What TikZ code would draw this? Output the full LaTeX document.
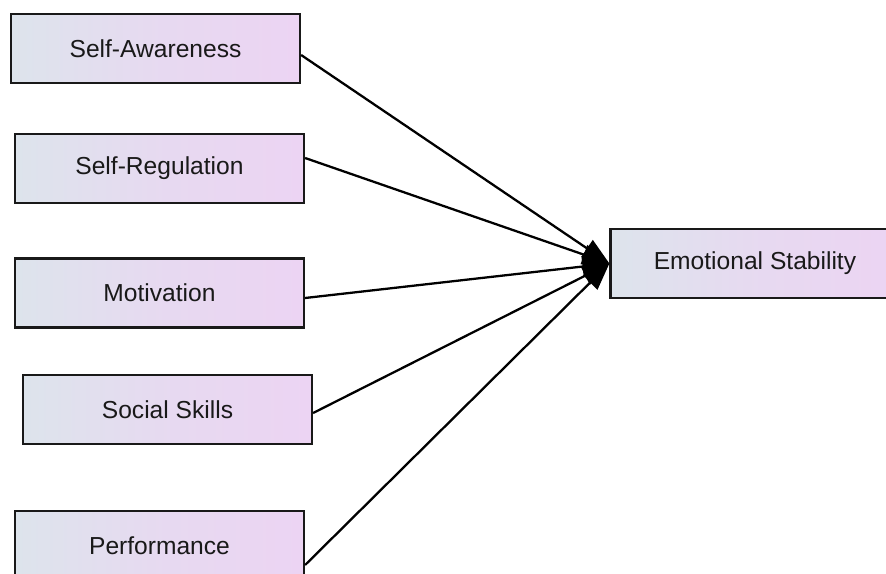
\documentclass[tikz,border=0pt]{standalone}
\usepackage{fontspec}
\setmainfont{Liberation Sans}
\usetikzlibrary{arrows.meta}
\definecolor{boxleft}{RGB}{221,228,236}
\definecolor{boxright}{RGB}{236,212,243}

\begin{document}
\begin{tikzpicture}[x=0.02cm,y=-0.02cm,
  box/.style={draw=black!90, line width=1.3pt, left color=boxleft, right color=boxright,
    middle color=boxright!65!boxleft,
    minimum width=5.78cm, minimum height=1.38cm, inner sep=0pt,
    font=\fontsize{14}{17}\selectfont, text=black!90},
  link/.style={line width=1.3pt, -{Triangle[length=0.54cm,width=0.4cm]}}]
\useasboundingbox (0,0) rectangle (886,574);

\node[box] (sa) at (155.5,48.5) {Self-Awareness};
\node[box] (sr) at (159.5,168.5) {Self-Regulation};
\node[box] (mo) at (159.5,293) {Motivation};
\node[box] (ss) at (167.5,409.5) {Social Skills};
\node[box] (pe) at (159.5,545.5) {Performance};

\node[box] (es) at (755,263.5) {Emotional Stability};

\draw[link] ([yshift=-0.13cm]sa.east) -- (es.west);
\draw[link] ([yshift=0.21cm]sr.east) -- (es.west);
\draw[link] ([yshift=-0.1cm]mo.east) -- (es.west);
\draw[link] ([yshift=-0.07cm]ss.east) -- (es.west);
\draw[link] ([yshift=-0.39cm]pe.east) -- (es.west);
\end{tikzpicture}
\end{document}
